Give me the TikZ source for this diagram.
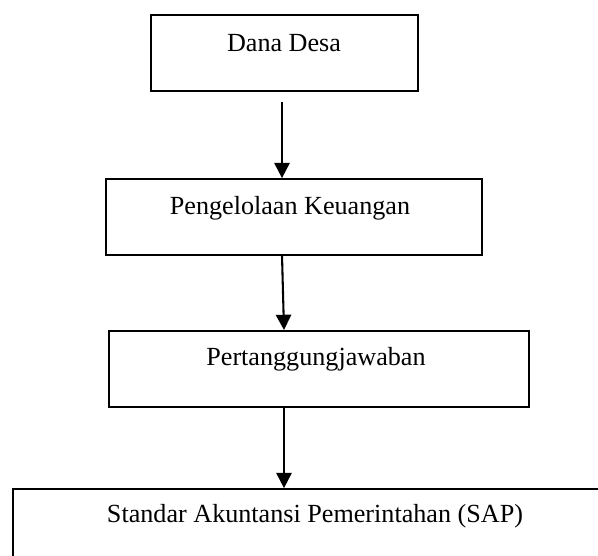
\documentclass[tikz,border=0pt]{standalone}
\usepackage{fontspec}
\setmainfont{Liberation Serif}
\usetikzlibrary{fit,arrows.meta}
\begin{document}
\begin{tikzpicture}[x=0.459pt,y=-0.459pt,
  box/.style={draw=black,line width=0.8pt,inner sep=0pt,rectangle},
  lbl/.style={anchor=base,inner sep=0pt,font=\fontsize{12}{14}\selectfont},
  flow/.style={draw=black,line width=0.95pt,-{Triangle[width=7pt,length=7pt]}}]
\useasboundingbox (0,0) rectangle (598,556);
\clip (0,0) rectangle (598,556);
\node[box,fit={(151,15) (418,91)}] (b1) {};
\node[box,fit={(106,179) (482,255)}] (b2) {};
\node[box,fit={(109,331) (529,407)}] (b3) {};
\node[box,fit={(13,489) (627,575)}] (b4) {};
\node[lbl] (t1) at (284,52) {Dana Desa};
\node[lbl] (t2) at (290,215) {Pengelolaan Keuangan};
\node[lbl] (t3) at (316,366) {Pertanggungjawaban};
\node[lbl] (t4) at (315,523) {Standar Akuntansi Pemerintahan (SAP)};
\coordinate (a1s) at (282,102);
\coordinate (a2s) at (282,255);
\coordinate (a2e) at (284,330);
\coordinate (a3s) at (284,407);
\draw[flow] (a1s) -- (a1s |- b2.north);
\draw[flow] (a2s) -- (a2e);
\draw[flow] (a3s) -- (a3s |- b4.north);
\end{tikzpicture}
\end{document}
